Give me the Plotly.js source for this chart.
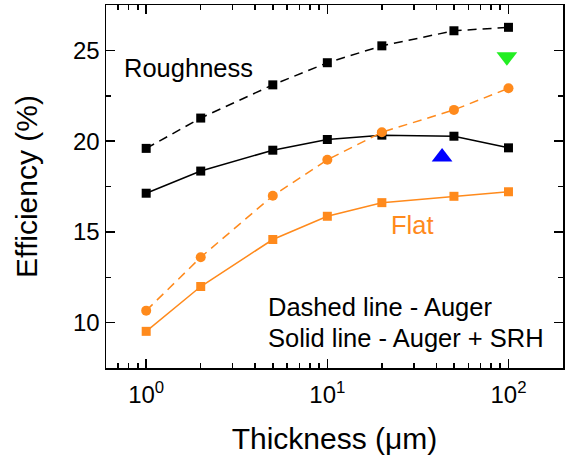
<!DOCTYPE html>
<html>
<head>
<meta charset="utf-8">
<script src="https://cdn.plot.ly/plotly-3.0.1.min.js"></script>
<style>html,body{margin:0;padding:0;background:#fff;}#chart{width:567px;height:461px;}</style>
</head>
<body>
<div id="chart"></div>
<script>
// Thickness values (µm)
const thickness = [1, 2, 5, 10, 20, 50, 100];
// Efficiency (%)
const roughAuger    = [19.6, 21.27, 23.1, 24.32, 25.25, 26.08, 26.27];
const roughAugerSRH = [17.13, 18.35, 19.5, 20.09, 20.33, 20.27, 19.63];
const flatAuger     = [10.66, 13.6, 16.99, 18.97, 20.49, 21.72, 22.91];
const flatAugerSRH  = [9.52, 11.99, 14.58, 15.86, 16.61, 16.96, 17.21];
// Single reference points
const greenX = [98];  const greenY = [24.65];
const blueX  = [43];  const blueY  = [19.12];
// Tick labels
const xTickVals = [1, 10, 100];
const xTickText = ['10<sup>0</sup>', '10<sup>1</sup>', '10<sup>2</sup>'];
const xMinorVals = [0.6, 0.7, 0.8, 0.9, 2, 3, 4, 5, 6, 7, 8, 9, 20, 30, 40, 50, 60, 70, 80, 90];
const yTickVals = [10, 15, 20, 25];
const yMinorVals = [7.5, 12.5, 17.5, 22.5, 27.5];

const BLACK = '#000000';
const ORANGE = '#ff8a1c';
const FONT = 'Liberation Sans, Arial, sans-serif';
const DASH = '9px,6px';

const traces = [
  {x: thickness, y: roughAuger, mode: 'lines+markers', line: {color: BLACK, width: 1.5, dash: DASH}, marker: {symbol: 'square', size: 9, color: BLACK}},
  {x: thickness, y: roughAugerSRH, mode: 'lines+markers', line: {color: BLACK, width: 1.5}, marker: {symbol: 'square', size: 9, color: BLACK}},
  {x: thickness, y: flatAuger, mode: 'lines+markers', line: {color: ORANGE, width: 1.5, dash: DASH}, marker: {symbol: 'circle', size: 10, color: ORANGE}},
  {x: thickness, y: flatAugerSRH, mode: 'lines+markers', line: {color: ORANGE, width: 1.5}, marker: {symbol: 'square', size: 9, color: ORANGE}},
  {x: greenX, y: greenY, mode: 'markers', marker: {symbol: 'triangle-down', size: 18, color: '#22ee22'}},
  {x: blueX, y: blueY, mode: 'markers', marker: {symbol: 'triangle-up', size: 18, color: '#0000ff'}}
];

const axisCommon = {
  showline: true, linecolor: BLACK, linewidth: 1.5, mirror: 'ticks',
  ticks: 'inside', ticklen: 9, tickwidth: 1.5, tickcolor: BLACK,
  showgrid: false, zeroline: false,
  tickfont: {family: FONT, size: 24, color: BLACK}
};

const layout = {
  width: 567, height: 461,
  margin: {l: 106, r: 4, t: 5, b: 93},
  paper_bgcolor: '#ffffff', plot_bgcolor: '#ffffff',
  showlegend: false,
  font: {family: FONT, color: BLACK},
  xaxis: Object.assign({}, axisCommon, {
    type: 'log', range: [Math.log10(0.6), Math.log10(200)],
    tickmode: 'array', tickvals: xTickVals, ticktext: xTickText,
    ticklabelstandoff: 5,
    minor: {tickmode: 'array', tickvals: xMinorVals, ticks: 'inside', ticklen: 5, tickwidth: 1.5, tickcolor: BLACK, showgrid: false},
    title: {text: 'Thickness (μm)', font: {family: FONT, size: 30, color: BLACK}, standoff: 20}
  }),
  yaxis: Object.assign({}, axisCommon, {
    range: [7.5, 27.5],
    tickmode: 'array', tickvals: yTickVals,
    minor: {tickmode: 'array', tickvals: yMinorVals, ticks: 'inside', ticklen: 5, tickwidth: 1.5, tickcolor: BLACK, showgrid: false},
    title: {text: 'Efficiency (%)', font: {family: FONT, size: 30, color: BLACK}, standoff: 26}
  }),
  annotations: [
    {xref: 'paper', yref: 'paper', x: 0.035, y: 0.826, xanchor: 'left', yanchor: 'middle', text: 'Roughness', showarrow: false, font: {family: FONT, size: 25.5, color: BLACK}},
    {xref: 'paper', yref: 'paper', x: 0.62, y: 0.395, xanchor: 'left', yanchor: 'middle', text: 'Flat', showarrow: false, font: {family: FONT, size: 25.5, color: ORANGE}},
    {xref: 'paper', yref: 'paper', x: 0.35, y: 0.168, xanchor: 'left', yanchor: 'middle', text: 'Dashed line - Auger', showarrow: false, font: {family: FONT, size: 25.5, color: BLACK}},
    {xref: 'paper', yref: 'paper', x: 0.35, y: 0.083, xanchor: 'left', yanchor: 'middle', text: 'Solid line - Auger + SRH', showarrow: false, font: {family: FONT, size: 25.5, color: BLACK}}
  ]
};

Plotly.newPlot('chart', traces, layout, {displayModeBar: false, staticPlot: true});
</script>
</body>
</html>
